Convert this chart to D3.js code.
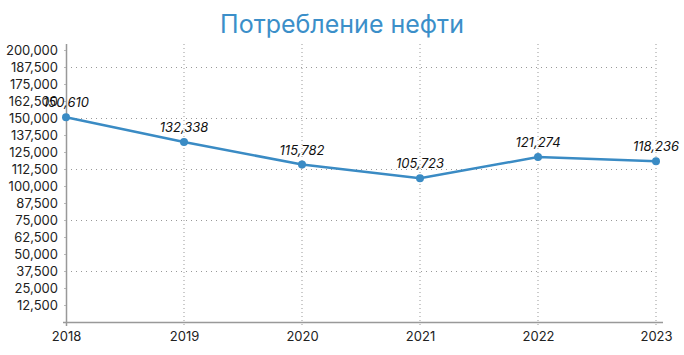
<!DOCTYPE html>
<html>
<head>
<meta charset="utf-8">
<script src="https://cdn.jsdelivr.net/npm/d3@7"></script>
<style>
    body { margin: 0; background: #fff; }
    text { font-family: Inter, "Noto Sans", sans-serif; }
</style>
</head>
<body>
<script>
// chart data
var years = ["2018", "2019", "2020", "2021", "2022", "2023"];
var values = [150610, 132338, 115782, 105723, 121274, 118236];
var yTicks = d3.range(12500, 200001, 12500);
var gridTicks = [37500, 75000, 112500, 150000, 187500];
var title = "Потребление нефти";

var W = 684, H = 355;
var margin = {top: 50, right: 28, bottom: 33, left: 66},
    width = W - margin.left - margin.right,
    height = H - margin.top - margin.bottom;

var svg = d3.select("body").append("svg")
    .attr("width", W)
    .attr("height", H);

svg.append("text")
    .attr("x", W / 2)
    .attr("y", 33)
    .attr("text-anchor", "middle")
    .attr("font-size", "25px")
    .attr("fill", "#3b8fc9")
    .text(title);

var g = svg.append("g")
    .attr("transform", "translate(" + margin.left + "," + margin.top + ")");

var x = d3.scalePoint().domain(years).range([0, width]);
var y = d3.scaleLinear().domain([0, 200000]).range([height, 0]);

// vertical dotted grid
g.selectAll(".vgrid")
    .data(years.slice(1))
    .enter().append("line")
    .attr("x1", function(d) { return x(d); })
    .attr("x2", function(d) { return x(d); })
    .attr("y1", -6)
    .attr("y2", height + 4)
    .attr("stroke", "#999")
    .attr("stroke-width", 1)
    .attr("stroke-dasharray", "1,3");

// horizontal dotted grid
g.selectAll(".hgrid")
    .data(gridTicks)
    .enter().append("line")
    .attr("x1", 0)
    .attr("x2", width)
    .attr("y1", function(d) { return Math.round(y(d)) + 0.5; })
    .attr("y2", function(d) { return Math.round(y(d)) + 0.5; })
    .attr("stroke", "#999")
    .attr("stroke-width", 1)
    .attr("stroke-dasharray", "1,4");

// y axis
var yAxis = d3.axisLeft(y)
    .tickValues(yTicks)
    .tickSize(2)
    .tickPadding(6)
    .tickFormat(d3.format(","));
var ya = g.append("g").call(yAxis);
ya.select(".domain").remove();
ya.selectAll("line").attr("stroke", "#bbb");
ya.selectAll("text")
    .attr("font-size", "13px")
    .attr("fill", "#222")
    .style("font-family", "Inter, sans-serif");
g.append("line")
    .attr("x1", 0.5).attr("x2", 0.5)
    .attr("y1", -6).attr("y2", height + 4)
    .attr("stroke", "#999").attr("stroke-width", 1.5);

// x axis
var xAxis = d3.axisBottom(x).tickSize(0).tickPadding(10);
var xa = g.append("g")
    .attr("transform", "translate(0," + height + ")")
    .call(xAxis);
xa.select(".domain").remove();
xa.selectAll("text")
    .attr("font-size", "13px")
    .attr("fill", "#222")
    .style("font-family", "Inter, sans-serif");
g.append("line")
    .attr("x1", -3).attr("x2", width + 7)
    .attr("y1", height + 0.5).attr("y2", height + 0.5)
    .attr("stroke", "#999").attr("stroke-width", 1.5);

// line
var line = d3.line()
    .x(function(d, i) { return x(years[i]); })
    .y(function(d) { return y(d); });

g.append("path")
    .datum(values)
    .attr("d", line)
    .attr("fill", "none")
    .attr("stroke", "#3a8bc4")
    .attr("stroke-width", 2.5);

g.selectAll(".dot")
    .data(values)
    .enter().append("circle")
    .attr("cx", function(d, i) { return x(years[i]); })
    .attr("cy", function(d) { return y(d); })
    .attr("r", 4)
    .attr("fill", "#3a8bc4");

g.selectAll(".lbl")
    .data(values)
    .enter().append("text")
    .attr("x", function(d, i) { return x(years[i]); })
    .attr("y", function(d) { return y(d) - 10; })
    .attr("text-anchor", "middle")
    .attr("font-size", "13px")
    .attr("font-style", "italic")
    .attr("fill", "#111")
    .text(function(d) { return d3.format(",")(d); });
</script>
</body>
</html>
